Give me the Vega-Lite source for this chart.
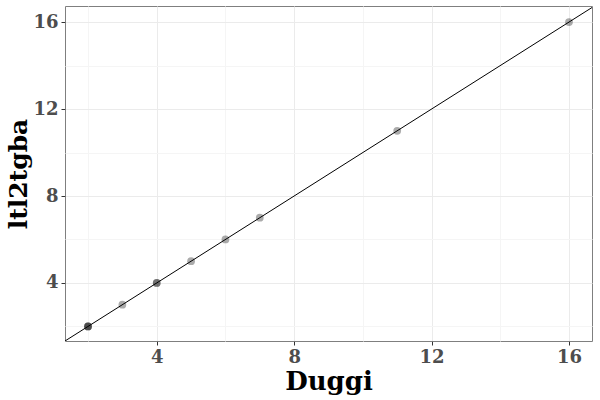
{
  "$schema": "https://vega.github.io/schema/vega-lite/v6.json",
  "width": 527,
  "height": 335,
  "autosize": "none",
  "padding": {"left": 65, "top": 6, "right": 8, "bottom": 59},
  "background": "white",
  "config": {
    "view": {"stroke": "#7f7f7f", "strokeWidth": 1},
    "font": "DejaVu Serif"
  },
  "datasets": {
    "pts": [
      {"Duggi": 2, "ltl2tgba": 2},
      {"Duggi": 2, "ltl2tgba": 2},
      {"Duggi": 2, "ltl2tgba": 2},
      {"Duggi": 3, "ltl2tgba": 3},
      {"Duggi": 4, "ltl2tgba": 4},
      {"Duggi": 4, "ltl2tgba": 4},
      {"Duggi": 5, "ltl2tgba": 5},
      {"Duggi": 6, "ltl2tgba": 6},
      {"Duggi": 7, "ltl2tgba": 7},
      {"Duggi": 11, "ltl2tgba": 11},
      {"Duggi": 16, "ltl2tgba": 16}
    ],
    "diag": [
      {"Duggi": 0, "ltl2tgba": 0},
      {"Duggi": 20, "ltl2tgba": 20}
    ]
  },
  "encoding": {
    "x": {
      "field": "Duggi", "type": "quantitative",
      "scale": {"domain": [1.33, 16.67], "nice": false, "zero": false},
      "axis": {
        "title": "Duggi",
        "values": [2, 4, 6, 8, 10, 12, 14, 16],
        "labelExpr": "datum.value % 4 === 0 ? datum.label : ''",
        "grid": true,
        "gridColor": {"condition": {"test": "datum.value % 4 === 0", "value": "#ebebeb"}, "value": "#f5f5f5"},
        "tickOpacity": {"condition": {"test": "datum.value % 4 === 0", "value": 1}, "value": 0},
        "domain": false,
        "tickColor": "#333333",
        "tickSize": 4,
        "labelFont": "DejaVu Serif",
        "labelFontWeight": "bold",
        "labelFontSize": 18,
        "labelColor": "#4d4d4d",
        "labelPadding": 3,
        "titleFont": "DejaVu Serif",
        "titleFontWeight": "bold",
        "titleFontSize": 26,
        "titleColor": "#000000",
        "titlePadding": 2
      }
    },
    "y": {
      "field": "ltl2tgba", "type": "quantitative",
      "scale": {"domain": [1.33, 16.74], "nice": false, "zero": false},
      "axis": {
        "title": "ltl2tgba",
        "values": [2, 4, 6, 8, 10, 12, 14, 16],
        "labelExpr": "datum.value % 4 === 0 ? datum.label : ''",
        "grid": true,
        "gridColor": {"condition": {"test": "datum.value % 4 === 0", "value": "#ebebeb"}, "value": "#f5f5f5"},
        "tickOpacity": {"condition": {"test": "datum.value % 4 === 0", "value": 1}, "value": 0},
        "domain": false,
        "tickColor": "#333333",
        "tickSize": 4,
        "labelFont": "DejaVu Serif",
        "labelFontWeight": "bold",
        "labelFontSize": 18,
        "labelColor": "#4d4d4d",
        "labelPadding": 3,
        "titleFont": "DejaVu Serif",
        "titleFontWeight": "bold",
        "titleFontSize": 25,
        "titleColor": "#000000",
        "titlePadding": 1
      }
    }
  },
  "layer": [
    {
      "data": {"name": "diag"},
      "mark": {"type": "line", "color": "black", "strokeWidth": 1, "clip": true}
    },
    {
      "data": {"name": "pts"},
      "mark": {"type": "circle", "size": 60, "color": "black", "opacity": 0.33}
    }
  ]
}
